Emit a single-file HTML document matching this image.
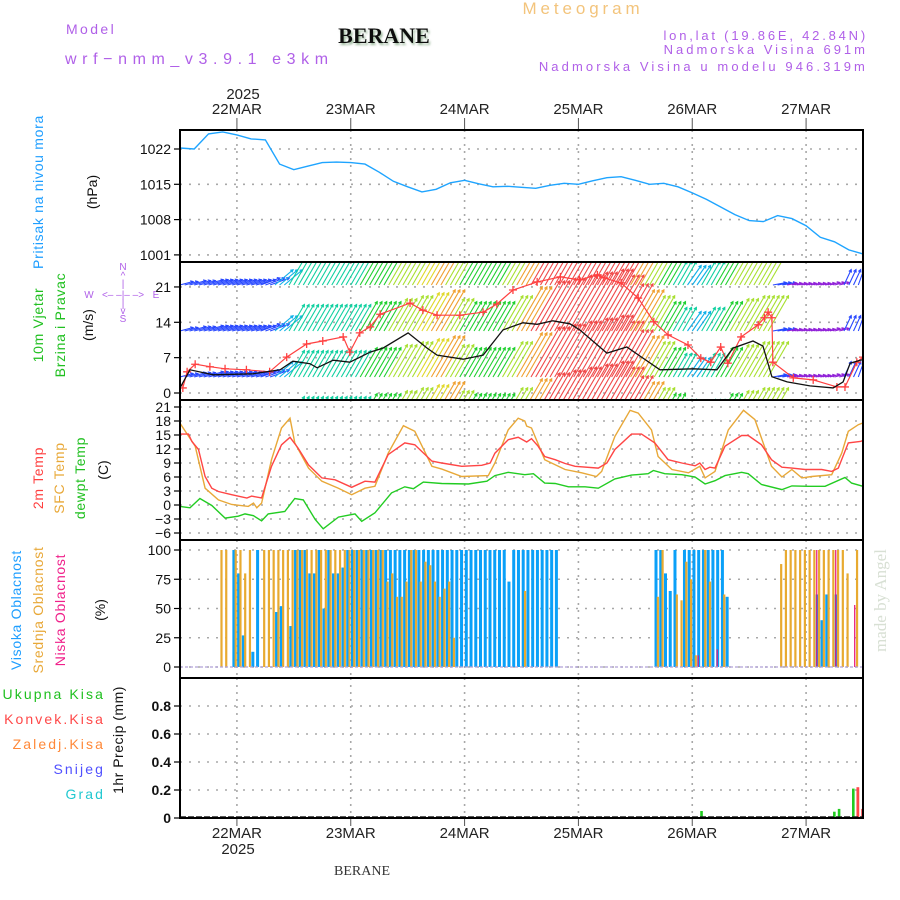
<!DOCTYPE html>
<html><head><meta charset="utf-8"><title>Meteogram BERANE</title>
<style>
html,body{margin:0;padding:0;background:#fff;}
svg{display:block;font-family:"Liberation Sans",sans-serif;}
</style></head>
<body>
<svg id="chart" width="900" height="900" viewBox="0 0 900 900" xmlns="http://www.w3.org/2000/svg">
<defs>
<clipPath id="clipW"><rect x="181" y="263" width="681" height="136"/></clipPath>
<filter id="shadow" x="-10%" y="-10%" width="130%" height="150%"><feDropShadow dx="1.5" dy="2" stdDeviation="1" flood-color="#9bb89b"/></filter>
</defs>
<!-- header -->
<text x="66" y="34" font-size="14" fill="#b060e8" letter-spacing="2.4">Model</text>
<text x="65" y="64" font-size="16" fill="#b060e8" letter-spacing="5.6">wrf−nmm_v3.9.1 e3km</text>
<text x="384" y="43" font-size="22" font-weight="bold" font-family="Liberation Serif,serif" text-anchor="middle" fill="#111" filter="url(#shadow)">BERANE</text>
<text x="583" y="14" font-size="17" fill="#f3c47c" text-anchor="middle" letter-spacing="3.9">Meteogram</text>
<text x="868" y="40" font-size="13" fill="#b060e8" text-anchor="end" letter-spacing="2.8">lon,lat (19.86E, 42.84N)</text>
<text x="868" y="54" font-size="13" fill="#b060e8" text-anchor="end" letter-spacing="3">Nadmorska Visina 691m</text>
<text x="868" y="71" font-size="13" fill="#b060e8" text-anchor="end" letter-spacing="3.1">Nadmorska Visina u modelu 946.319m</text>
<text x="243" y="99" font-size="15" fill="#222" text-anchor="middle">2025</text>
<text x="238" y="854" font-size="15" fill="#222" text-anchor="middle">2025</text>
<text x="362" y="875" font-size="14" font-family="Liberation Serif,serif" fill="#333" text-anchor="middle">BERANE</text>
<text transform="translate(886,652) rotate(-90)" font-size="17" font-family="Liberation Serif,serif" fill="#d8e0d4">made by Angel</text>

<!-- left axis titles -->
<text transform="translate(43,192) rotate(-90)" font-size="14" fill="#1e9eff" text-anchor="middle" letter-spacing="0.7">Pritisak na nivou mora</text>
<text transform="translate(97,192) rotate(-90)" font-size="14" fill="#111" text-anchor="middle">(hPa)</text>
<text transform="translate(43,325) rotate(-90)" font-size="14" fill="#20c020" text-anchor="middle" letter-spacing="0.7">10m Vjetar</text>
<text transform="translate(65,325) rotate(-90)" font-size="14" fill="#20c020" text-anchor="middle" letter-spacing="0.7">Brzina i Pravac</text>
<text transform="translate(93,325) rotate(-90)" font-size="14" fill="#111" text-anchor="middle">(m/s)</text>
<g font-size="10" fill="#b060e8" text-anchor="middle">
<text x="123" y="270">N</text><text x="123" y="279">^</text><text x="123" y="287">|</text>
<text x="89" y="298">W</text><text x="123" y="298">&lt;– –|– –&gt;</text><text x="156" y="298">E</text>
<text x="123" y="307">|</text><text x="123" y="314">v</text><text x="123" y="322">S</text>
</g>
<text transform="translate(43,478) rotate(-90)" font-size="14" fill="#ff4040" text-anchor="middle" letter-spacing="0.7">2m Temp</text>
<text transform="translate(64,478) rotate(-90)" font-size="14" fill="#e8a838" text-anchor="middle" letter-spacing="0.7">SFC Temp</text>
<text transform="translate(85,478) rotate(-90)" font-size="14" fill="#20c020" text-anchor="middle" letter-spacing="0.7">dewpt Temp</text>
<text transform="translate(108,470) rotate(-90)" font-size="14" fill="#111" text-anchor="middle">(C)</text>
<text transform="translate(21,610) rotate(-90)" font-size="14" fill="#1e9eff" text-anchor="middle" letter-spacing="0.7">Visoka Oblacnost</text>
<text transform="translate(43,610) rotate(-90)" font-size="14" fill="#e8a838" text-anchor="middle" letter-spacing="0.7">Srednja Oblacnost</text>
<text transform="translate(65,610) rotate(-90)" font-size="14" fill="#f0208a" text-anchor="middle" letter-spacing="0.7">Niska Oblacnost</text>
<text transform="translate(105,610) rotate(-90)" font-size="14" fill="#111" text-anchor="middle">(%)</text>
<g font-size="14" text-anchor="end" letter-spacing="2.1">
<text x="105" y="699" fill="#20c020">Ukupna Kisa</text>
<text x="105" y="724" fill="#ff4848">Konvek.Kisa</text>
<text x="105" y="749" fill="#ff8838">Zaledj.Kisa</text>
<text x="105" y="774" fill="#5050ff">Snijeg</text>
<text x="105" y="799" fill="#20c8d0">Grad</text>
</g>
<text transform="translate(123,740) rotate(-90)" font-size="14" fill="#111" text-anchor="middle" letter-spacing="0.5">1hr Precip (mm)</text>

<g id="plot"></g>
</svg>
<script>
// ---------- data ----------
const dayLabels = ["22MAR","23MAR","24MAR","25MAR","26MAR","27MAR"];
const dayHours = [12,36,60,84,108,132];

const pressureHours = [0,3,6,9,12,15,18,21,24,27,30,33,36,39,42,45,48,51,54,57,60,63,66,69,72,75,78,81,84,87,90,93,96,99,102,105,108,111,114,117,120,123,126,129,132,135,138,141,144];
const pressureValues = [1022.2,1022.0,1025.0,1025.4,1024.8,1024.0,1023.8,1019.0,1017.9,1018.6,1019.3,1019.4,1019.3,1019.0,1017.4,1015.6,1014.5,1013.5,1014.0,1015.3,1015.8,1015.1,1014.5,1014.6,1014.4,1014.2,1014.8,1015.2,1015.0,1015.7,1016.3,1016.5,1015.8,1015.0,1015.2,1014.5,1013.3,1012.0,1010.5,1009.0,1007.8,1007.6,1008.8,1008.2,1006.8,1004.5,1003.6,1002.0,1001.2];
const pressureTicks = [1001,1008,1015,1022];

const windArrowSpeed = [4,5,6,6,6,6,6,7,9,9,9,9,9,10,10,11,12,13,14,11,10,10,10,12,15,17,18,19,20,21,19,16,14,12,10,8,7,8,10,11,12,12,4,3,3,3,3,5,6];
const windArrowAngle = [15,15,15,15,15,15,20,40,60,60,60,60,60,60,60,60,60,60,60,60,60,60,60,60,60,60,60,60,60,60,60,60,60,60,60,60,55,60,60,60,60,60,10,10,10,10,15,65,70];
const windSpeedHours = [0,2.1,7.0,15.4,21.1,23.8,27.4,28.9,32.3,35.8,40.1,42.8,48.1,52.1,54.2,59.7,63.9,68.1,72.3,75.3,78.6,82.2,84.3,90.0,94.2,101.2,108.2,113.2,116.6,120.8,122.9,124.8,128.0,132.8,137.7,139.8,141.3,143.4,144];
const windSpeedValues = [1.0,4.6,3.6,3.8,4.6,6.3,5.8,5.0,6.5,6.1,8.1,8.9,11.9,8.9,7.5,6.7,7.5,12.5,13.9,13.6,14.3,13.7,12.5,7.9,9.1,4.6,4.8,4.6,8.9,10.3,9.3,3.2,2.2,1.4,1.0,2.2,5.9,6.5,6.6];
const gustHours = [0.6,1.5,3.2,6.3,9.5,14,18.9,22.5,26.7,30.1,34.4,35.8,37.9,40.1,42.2,48.5,51.2,54.2,59.0,63.9,66.8,70.2,75.3,80.2,84.2,88.0,89.4,93.0,96.6,99.9,102.9,107.1,109.8,111.9,114.0,115.5,118.3,121.9,123.2,124.0,124.8,125.0,129.3,133.5,138.5,140.2,142.7,144];
const gustValues = [1.0,4.2,5.7,5.2,4.8,4.6,4.2,7.1,9.7,10.3,11.1,8.1,11.9,13.1,15.6,17.8,16.4,15.4,15.4,16.0,17.6,20.4,22.0,23.0,22.4,23.4,22.8,21.8,18.8,14.1,11.5,9.5,6.9,6.1,9.1,5.9,11.1,13.5,14.9,16.0,14.9,6.1,3.0,2.6,1.2,1.2,6.1,7.1];
const windTicks = [0,7,14,21];

const t2mHours = [0,1.8,2.5,3.9,5.3,6.7,8.1,10.9,14.1,15.1,17.2,19.3,21.4,23.2,24.9,27.1,29.9,32.7,36.2,39.0,41.1,43.9,47.4,49.5,53.1,55.2,59.4,63.6,65.4,66.4,69.2,71.3,73.1,74.1,75.5,76.9,79.1,81.2,83.3,88.2,90.0,91.7,95.2,97.3,100.1,102.9,105.8,108.6,109.6,110.7,111.7,112.8,114.9,118.4,119.8,122.6,124.7,126.9,129.0,131.8,135.3,137.4,138.8,140.9,143.4,144];
const t2mValues = [15.2,15.2,13.6,11.9,6.1,3.6,2.9,2.2,1.5,1.9,1.5,8.3,12.9,14.5,12.2,8.6,5.8,5.4,3.8,5.1,4.9,10.8,13.3,12.9,9.4,9.0,8.3,8.5,9.0,11.1,14.0,14.5,13.5,14.2,12.6,10.4,9.7,8.9,8.3,7.9,9.0,11.9,15.2,15.2,13.3,9.7,9.0,8.4,9.0,7.6,8.1,7.9,12.6,14.9,14.9,12.9,9.7,8.1,7.9,7.6,7.6,7.2,7.9,13.3,13.6,13.8];
const sfcHours = [0,3.2,5.3,8.1,10.9,14.4,15.5,16.2,17.2,19.3,21.4,23.2,24.2,27.1,29.9,33.4,36.2,39.0,41.1,43.9,47.1,49.5,53.1,55.2,59.4,65.0,66.4,69.2,71.3,72.7,73.1,74.1,76.9,81.2,84.7,87.8,88.9,91.7,94.9,96.6,99.4,100.8,103.7,107.2,109.6,110.7,112.8,115.6,118.8,121.2,124.7,126.9,129.0,131.1,133.2,137.4,139.5,140.9,143.0,144];
const sfcValues = [17.5,12.6,3.6,1.1,0.1,-0.3,0.4,-0.6,0.4,9.7,16.5,18.6,13.3,7.9,5.1,3.6,2.2,3.6,4.0,11.1,17.0,15.8,8.3,7.7,6.1,6.3,9.0,16.1,18.6,18.0,16.9,16.5,9.7,7.6,6.9,6.1,7.2,14.7,20.3,19.7,16.1,10.4,7.6,6.9,8.3,5.8,7.2,16.1,20.3,18.3,8.3,6.0,7.6,5.8,6.1,6.5,11.1,15.8,17.2,17.6];
const dewHours = [0,2.1,4.2,6.7,9.5,12.3,13.7,15.5,17.2,18.6,22.1,24.2,26.0,28.5,30.2,33.4,36.9,38.3,41.1,44.6,47.4,49.2,51.3,55.2,60.8,64.7,66.4,69.2,72.7,74.5,76.9,79.1,81.9,85.4,88.2,91.7,95.2,98.7,99.8,102.2,105.8,108.6,110.7,112.8,114.9,118.4,119.8,122.6,126.9,129.0,132.5,136.0,140.2,141.6,144];
const dewValues = [-0.3,-0.6,1.4,-0.1,-2.8,-2.4,-1.9,-2.3,-3.4,-1.9,-1.4,1.4,1.1,-3.1,-5.1,-2.6,-1.9,-3.5,-1.7,2.6,3.9,3.5,4.9,4.6,4.5,5.1,6.3,7.0,6.5,6.7,4.7,4.6,3.9,3.9,3.6,5.6,6.4,6.7,7.4,6.7,6.5,6.0,4.5,5.2,6.3,7.0,6.7,4.4,3.3,4.1,4.0,4.0,5.9,4.7,4.0];
const tempTicks = [-6,-3,0,3,6,9,12,15,18,21];

function fillHours(n, pairs){ const a=new Array(n).fill(0); pairs.forEach(p=>{a[p[0]]=p[1];}); return a; }
const highCloud = fillHours(145, [[11,100],[12,80],[13,27],[15,13],[16,100],[20,47],[21,52],[23,35],[24,100],[25,100],[26,100],[27,80],[28,80],[29,100],[30,50],[31,100],[32,80],[33,80],[34,85],
 [35,100],[36,100],[37,100],[38,100],[39,100],[40,100],[41,100],[42,100],[43,100],[44,100],[45,100],[46,100],[47,100],[48,100],[49,100],[50,100],[51,100],[52,100],[53,100],[54,100],[55,100],[56,100],[57,100],[58,100],[59,100],[60,100],[61,100],[62,100],[63,100],[64,100],[65,100],[66,100],[67,100],[68,100],[69,73],[70,100],[71,100],[72,100],[73,100],[74,100],[75,100],[76,100],[77,100],[78,100],[79,100],
 [100,100],[101,100],[102,80],[103,65],[104,100],[106,100],[107,100],[108,100],[109,100],[110,100],[111,100],[112,100],[113,100],[114,100],[115,60],[134,62],[135,40],[136,62],[138,62]]);
const midCloud = fillHours(145, [[9,100],[10,100],[12,100],[13,100],[14,80],[15,100],[18,100],[19,100],[20,100],[21,100],[22,100],[23,100],[24,100],[25,100],[26,100],[27,100],[28,100],[29,100],[30,100],[31,100],[32,100],[33,100],[34,100],[35,100],[36,100],[37,100],[38,100],[39,100],[40,100],[41,100],[42,100],[43,100],
 [44,73],[45,80],[46,60],[47,60],[48,73],[49,100],[50,100],[51,73],[52,90],[53,87],[54,73],[55,60],[56,67],[57,73],[58,25],[73,65],
 [101,60],[102,100],[105,62],[106,57],[107,90],[108,75],[109,10],[111,100],[112,73],[115,62],
 [127,88],[128,100],[129,100],[130,100],[131,100],[132,100],[133,100],[134,100],[135,100],[136,100],[137,100],[138,100],[139,100],[140,100],[141,80],[143,100]]);
const lowCloud = fillHours(145, [[109,10],[113,15],[134,100],[138,100],[142,53]]);
const cloudTicks = [0,25,50,75,100];

const totalPrecip = fillHours(145, [[110,0.05],[138,0.045],[139,0.065],[142,0.21]]);
const convPrecip = fillHours(145, [[143,0.22],[144,0.065]]);
const precipTicks = [0,0.2,0.4,0.6,0.8];
const precipTickLabels = ["0","0.2","0.4","0.6","0.8"];

// ---------- helpers ----------
const NS="http://www.w3.org/2000/svg";
const plot=document.getElementById('plot');
const X0=180, X1=863, HMAX=144;
const xs = h => X0 + h*(X1-X0)/HMAX;
const yP = v => 149 + (1022-v)*35.3/7;
const yW = v => 393 - v*5.05;
const yT = v => 505 - v*4.667;
const yC = v => 667 - v*1.17;
const yR = v => 818 - v*140;
const panels=[{t:130,b:262},{t:262,b:400},{t:400,b:540},{t:540,b:678},{t:678,b:818}];
function mk(tag, attrs, parent){ const e=document.createElementNS(NS,tag); for(const k in attrs) e.setAttribute(k,attrs[k]); (parent||plot).appendChild(e); return e; }
function linePath(hours, vals, yf){ return hours.map((h,i)=>(i?'L':'M')+xs(h).toFixed(1)+','+yf(vals[i]).toFixed(1)).join(''); }

// grid
const grid=mk('g',{});


panels.forEach(p=>{ dayHours.forEach(h=>{ const l=mk('line',{x1:xs(h),x2:xs(h),y1:p.t,y2:p.b,stroke:'#a8a8a8','stroke-width':1.6,'stroke-dasharray':'2 5'},grid);
  
   }); });
function hgrid(ticks, yf){ ticks.forEach(v=>{ const l=mk('line',{x1:X0,x2:X1,y1:yf(v),y2:yf(v),stroke:'#a8a8a8','stroke-width':1.6,'stroke-dasharray':'2 7'},grid);
  
   }); }
hgrid(pressureTicks,yP); hgrid(windTicks,yW); hgrid(tempTicks,yT); hgrid(cloudTicks,yC); hgrid(precipTicks.slice(1),yR);

// tick labels
function yticks(ticks, labels, yf, name, bold){ ticks.forEach((v,i)=>{ const y=yf(v);
  const tk=mk('line',{x1:174,x2:X0,y1:y,y2:y,stroke:'#000','stroke-width':1.2});
  
  
  const t=mk('text',{x:171,y:y+5,'font-size':14,'text-anchor':'end',fill:'#111','font-weight':bold?'bold':'normal'});
  t.textContent=labels[i];
  
   }); }
yticks(pressureTicks,pressureTicks.map(String),yP,'pressure');
yticks(windTicks,windTicks.map(String),yW,'wind');
yticks(tempTicks,tempTicks.map(v=>v<0?'−'+(-v):String(v)),yT,'temp');
yticks(cloudTicks,cloudTicks.map(String),yC,'cloud');
yticks(precipTicks,precipTickLabels,yR,'precip',true);

// day labels top and bottom
dayHours.forEach((h,i)=>{
  const t=mk('text',{x:xs(h),y:114,'font-size':15,'text-anchor':'middle',fill:'#222'}); t.textContent=dayLabels[i];
  
  
  const b=mk('text',{x:xs(h),y:838,'font-size':15,'text-anchor':'middle',fill:'#222'}); b.textContent=dayLabels[i];
  
  
  const tk=mk('line',{x1:xs(h),x2:xs(h),y1:118,y2:130,stroke:'#555','stroke-width':1});
  
  
  const bk=mk('line',{x1:xs(h),x2:xs(h),y1:818,y2:826,stroke:'#555','stroke-width':1});
  
  
});

// pressure
const pl=mk('path',{d:linePath(pressureHours,pressureValues,yP),fill:'none',stroke:'#1ea4ff','stroke-width':1.4});



// wind arrows
function speedColor(s){ if(s<4) return '#9020d8'; if(s<6.5) return '#2848ff'; if(s<8) return '#10b0e8'; if(s<9.5) return '#10d0a0'; if(s<11) return '#20d030'; if(s<12.5) return '#a8e030'; if(s<13.5) return '#e0d828'; if(s<15.5) return '#f0a030'; if(s<21.5) return '#f04848'; return '#e010a0'; }
const wg=mk('g',{'clip-path':'url(#clipW)'});


const rowBase=[285,331,377,423];
for(let h=0; h<=HMAX; h++){
  const k=Math.min(windArrowSpeed.length-1,Math.round(h/3));
  const s=windArrowSpeed[k], a=windArrowAngle[k]*Math.PI/180, L=s*3.4;
  const col=speedColor(s);
  rowBase.forEach(b=>{
    const x1=xs(h), y1=b, x2=x1+L*Math.cos(a), y2=y1-L*Math.sin(a);
    const hd=3, ang=Math.atan2(y2-y1,x2-x1);
    const p=mk('path',{d:`M${x1.toFixed(1)},${y1}L${x2.toFixed(1)},${y2.toFixed(1)}M${(x2-hd*Math.cos(ang-0.5)).toFixed(1)},${(y2-hd*Math.sin(ang-0.5)).toFixed(1)}L${x2.toFixed(1)},${y2.toFixed(1)}L${(x2-hd*Math.cos(ang+0.5)).toFixed(1)},${(y2-hd*Math.sin(ang+0.5)).toFixed(1)}`,stroke:col,'stroke-width':1.1,fill:'none'},wg);
    
    
  });
}
// gusts
const gg=mk('g',{'clip-path':'url(#clipW)'});


const gl=mk('path',{d:linePath(gustHours,gustValues,yW),fill:'none',stroke:'#ff4040','stroke-width':1.2},gg);


gustHours.forEach((h,i)=>{ const x=xs(h), y=yW(gustValues[i]);
  const c=mk('path',{d:`M${x-4},${y}H${x+4}M${x},${y-4}V${y+4}`,stroke:'#ff4040','stroke-width':1.3},gg);
  
   });
const wl=mk('path',{d:linePath(windSpeedHours,windSpeedValues,yW),fill:'none',stroke:'#111','stroke-width':1.3,'clip-path':'url(#clipW)'});



// temperature
const tl1=mk('path',{d:linePath(sfcHours,sfcValues,yT),fill:'none',stroke:'#e8a838','stroke-width':1.4});


const tl2=mk('path',{d:linePath(t2mHours,t2mValues,yT),fill:'none',stroke:'#ff4545','stroke-width':1.4});


const tl3=mk('path',{d:linePath(dewHours,dewValues,yT),fill:'none',stroke:'#22cc22','stroke-width':1.4});



// clouds
const cg=mk('g',{});


for(let h=0; h<=HMAX; h++){
  const x=xs(h);
  if(midCloud[h]>0){ const r=mk('rect',{x:x-2.3,y:yC(midCloud[h]),width:2.2,height:yC(0)-yC(midCloud[h]),fill:'#e8aa30'},cg);
    
     }
  if(highCloud[h]>0){ const r=mk('rect',{x:x+0.2,y:yC(highCloud[h]),width:3,height:yC(0)-yC(highCloud[h]),fill:'#0aa0f8'},cg);
    
     }
  if(lowCloud[h]>0){ const r=mk('rect',{x:x+0.6,y:yC(lowCloud[h]),width:1.2,height:yC(0)-yC(lowCloud[h]),fill:'#e8107a'},cg);
    
     }
}
const cz=mk('line',{x1:X0,x2:X1,y1:yC(0),y2:yC(0),stroke:'#b0a0d8','stroke-width':1.2,'stroke-dasharray':'3 2'});



// precip
const rg=mk('g',{});


for(let h=0; h<=HMAX; h++){
  const x=xs(h);
  if(totalPrecip[h]>0){ const r=mk('rect',{x:x-1.5,y:yR(totalPrecip[h]),width:2.6,height:yR(0)-yR(totalPrecip[h]),fill:'#20cc20'},rg);
    
     }
  if(convPrecip[h]>0){ const r=mk('rect',{x:x-1.8,y:yR(convPrecip[h]),width:2.8,height:yR(0)-yR(convPrecip[h]),fill:'#ff4848'},rg);
    
     }
}
const rz=mk('line',{x1:X0,x2:X1,y1:817,y2:817,stroke:'#222','stroke-width':1.5,'stroke-dasharray':'6 2'});



// panel frames
panels.forEach((p,i)=>{ const r=mk('rect',{x:X0,y:p.t,width:X1-X0,height:p.b-p.t,fill:'none',stroke:'#000','stroke-width':2});
  
   });
</script>
</body></html>
